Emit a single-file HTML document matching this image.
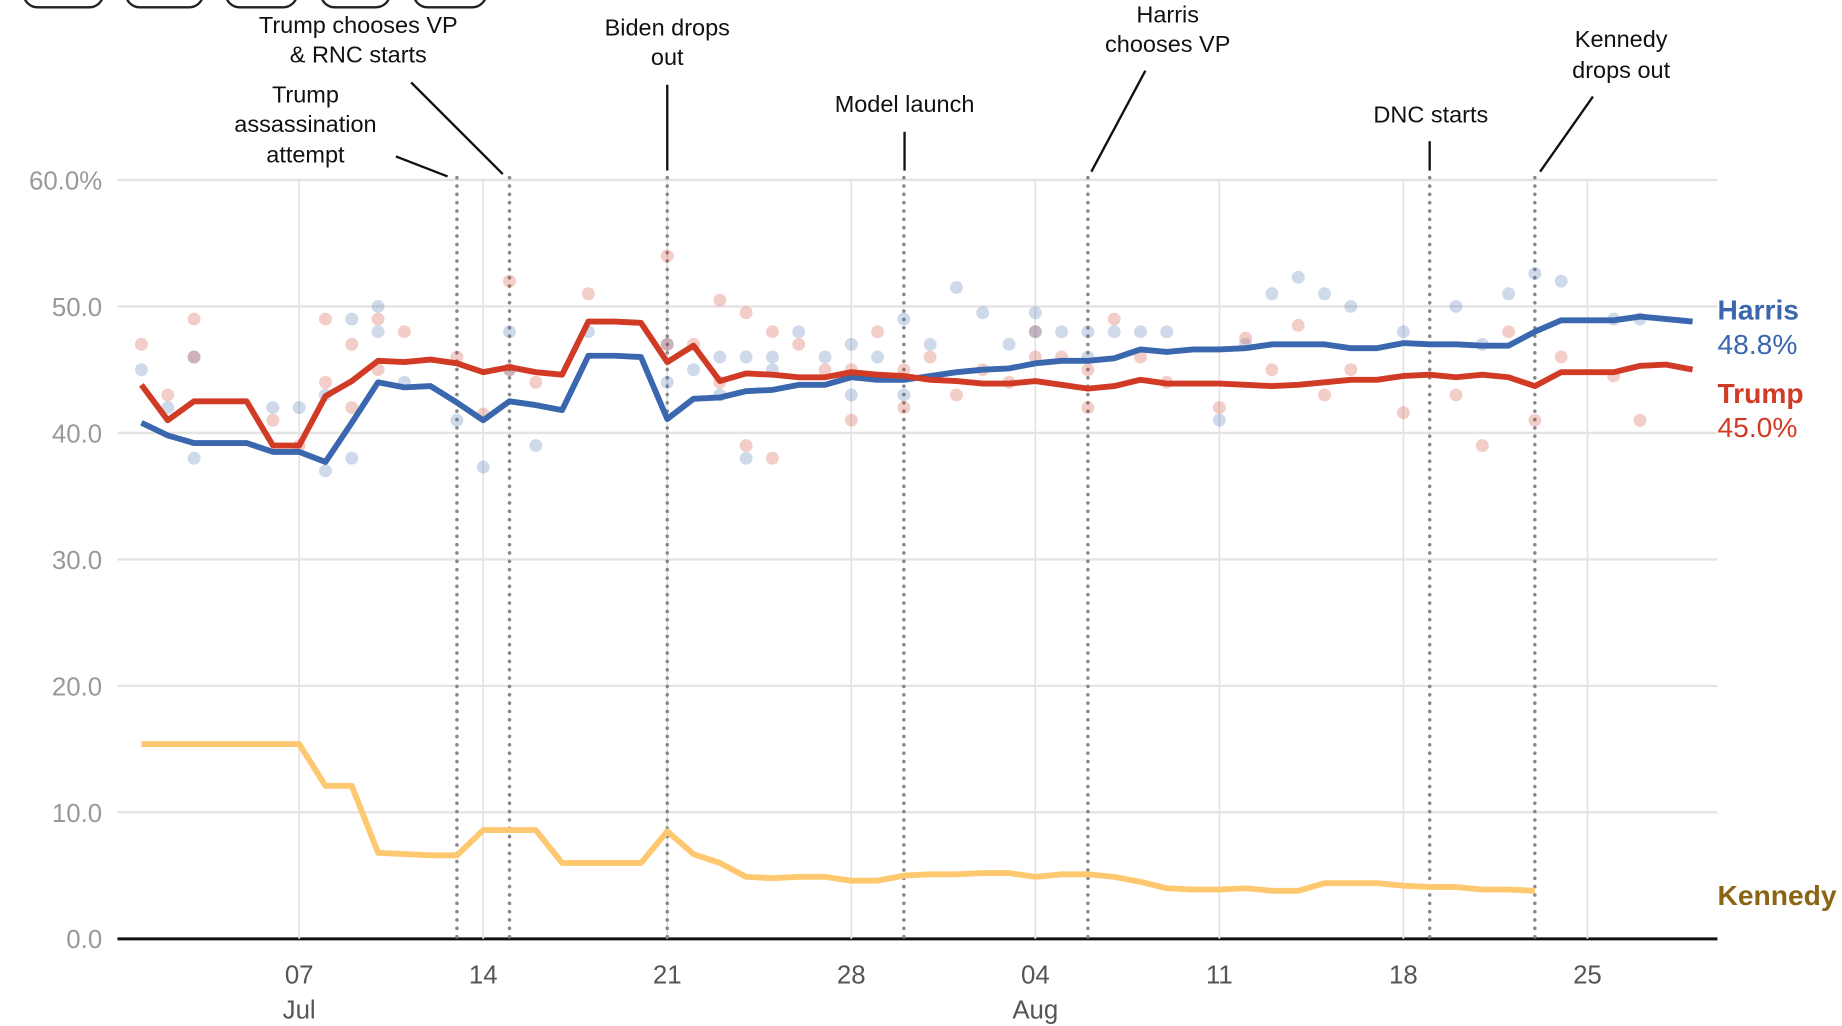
<!DOCTYPE html>
<html><head><meta charset="utf-8"><style>
html,body{margin:0;padding:0;background:#fff;width:1842px;height:1026px;overflow:hidden}
svg{display:block}
text{font-family:"Liberation Sans",sans-serif}
</style></head><body>
<svg id="chart" width="1842" height="1026" viewBox="0 0 1568 873" xmlns="http://www.w3.org/2000/svg">
<g>
<rect x="20" y="-25" width="68" height="31" rx="12" fill="#fff" stroke="#222" stroke-width="2"/>
<rect x="107" y="-25" width="66" height="31" rx="12" fill="#fff" stroke="#222" stroke-width="2"/>
<rect x="192" y="-25" width="61" height="31" rx="12" fill="#fff" stroke="#222" stroke-width="2"/>
<rect x="273" y="-25" width="59" height="31" rx="12" fill="#fff" stroke="#222" stroke-width="2"/>
<rect x="352" y="-25" width="62" height="31" rx="12" fill="#fff" stroke="#222" stroke-width="2"/>
</g>
<g id="grid"></g><g id="events"></g><g id="dots"></g><g id="lines"></g><g id="axes"></g>
<g font-size="20" fill="#111" text-anchor="middle">
<text x="305" y="28">Trump chooses VP</text><text x="305" y="53">&amp; RNC starts</text>
<text x="260" y="87">Trump</text><text x="260" y="112">assassination</text><text x="260" y="138">attempt</text>
<text x="568" y="30">Biden drops</text><text x="568" y="55">out</text>
<text x="770" y="95">Model launch</text>
<text x="994" y="19">Harris</text><text x="994" y="44">chooses VP</text>
<text x="1218" y="104">DNC starts</text>
<text x="1380" y="40">Kennedy</text><text x="1380" y="66">drops out</text>
<g stroke="#111" stroke-width="2">
<line x1="350" y1="70" x2="428" y2="148"/><line x1="337" y1="133" x2="381" y2="150"/>
<line x1="568" y1="72" x2="568" y2="145"/><line x1="770" y1="112" x2="770" y2="145"/>
<line x1="975" y1="60" x2="929" y2="146"/><line x1="1217" y1="120" x2="1217" y2="145"/>
<line x1="1356" y1="82" x2="1311" y2="146"/>
</g></g>
<g font-size="24">
<text x="1462" y="272" fill="#3a67ad" font-weight="bold">Harris</text>
<text x="1462" y="301" fill="#3a67ad">48.8%</text>
<text x="1462" y="343" fill="#d13b26" font-weight="bold">Trump</text>
<text x="1462" y="372" fill="#d13b26">45.0%</text>
<text x="1462" y="770" fill="#8b6414" font-weight="bold">Kennedy</text>
</g>
</svg>
<script>
const harris=[40.8,39.8,39.2,39.2,39.2,38.5,38.5,37.7,40.8,44.0,43.6,43.7,42.4,41.0,42.5,42.2,41.8,46.1,46.1,46.0,41.1,42.7,42.8,43.3,43.4,43.8,43.8,44.4,44.2,44.2,44.5,44.8,45.0,45.1,45.5,45.7,45.7,45.9,46.6,46.4,46.6,46.6,46.7,47.0,47.0,47.0,46.7,46.7,47.1,47.0,47.0,46.9,46.9,48.0,48.9,48.9,48.9,49.2,49.0,48.8];
const trump=[43.8,41.0,42.5,42.5,42.5,39.0,39.0,42.9,44.1,45.7,45.6,45.8,45.5,44.8,45.2,44.8,44.6,48.8,48.8,48.7,45.6,46.9,44.1,44.7,44.6,44.4,44.4,44.8,44.6,44.5,44.2,44.1,43.9,43.9,44.1,43.8,43.5,43.7,44.2,43.9,43.9,43.9,43.8,43.7,43.8,44.0,44.2,44.2,44.5,44.6,44.4,44.6,44.4,43.7,44.8,44.8,44.8,45.3,45.4,45.0];
const kennedy=[15.4,15.4,15.4,15.4,15.4,15.4,15.4,12.1,12.1,6.8,6.7,6.6,6.6,8.6,8.6,8.6,6.0,6.0,6.0,6.0,8.5,6.7,6.0,4.9,4.8,4.9,4.9,4.6,4.6,5.0,5.1,5.1,5.2,5.2,4.9,5.1,5.1,4.9,4.5,4.0,3.9,3.9,4.0,3.8,3.8,4.4,4.4,4.4,4.2,4.1,4.1,3.9,3.9,3.8];
const pollDays=[0,1,2,2,5,6,7,7,8,8,9,9,10,12,13,14,14,15,17,20,20,21,22,22,23,23,24,24,25,26,27,27,28,29,29,30,31,32,33,34,34,35,36,36,37,38,39,41,42,43,44,45,46,48,50,51,52,53,54,56,57];
const pollHarris=[45,42,38,46,42,42,37,43,49,38,50,48,44,41,37.3,48,45,39,48,44,47,45,43,46,46,38,45,46,48,46,47,43,46,49,43,47,51.5,49.5,47,49.5,48,48,48,46,48,48,48,41,47,51,52.3,51,50,48,50,47,51,52.6,52,49,49];
const pollTrump=[47,43,49,46,41,39,44,49,47,42,49,45,48,46,41.5,52,45,44,51,54,47,47,50.5,44,49.5,39,48,38,47,45,45,41,48,45,42,46,43,45,44,48,46,46,45,42,49,46,44,42,47.5,45,48.5,43,45,41.6,43,39,48,41,46,44.5,41];
const days=["07","14","21","28","04","11","18","25"];
const dayIdx=[6,13,20,27,34,41,48,55];
const months=["Jul","Aug"];const monthIdx=[6,34];
const yTicks=[0,10,20,30,40,50,60];
const eventIdx=[12,14,20,29,36,49,53];
const NS='http://www.w3.org/2000/svg';
const X=i=>120.4+i*22.38, Y=v=>799-v*10.767;
function mk(p,t,a){const e=document.createElementNS(NS,t);for(const k in a)e.setAttribute(k,a[k]);p.appendChild(e);return e;}
const G=id=>document.getElementById(id);
yTicks.forEach(v=>{
 const l=mk(G('grid'),'line',{x1:100,x2:1462,y1:Y(v),y2:Y(v),stroke:v===0?'#111':'#e4e4e4','stroke-width':v===0?2.5:2});
 
 
 const t=mk(G('axes'),'text',{x:87,y:Y(v)+8,'text-anchor':'end','font-size':22,fill:'#999'});
 t.textContent=v===60?'60.0%':v.toFixed(1);
 
 
});
dayIdx.forEach((d,k)=>{
 const l=mk(G('grid'),'line',{x1:X(d),x2:X(d),y1:153,y2:799,stroke:'#e4e4e4','stroke-width':1.5});
 
 
 const t=mk(G('axes'),'text',{x:X(d),y:837,'text-anchor':'middle','font-size':22,fill:'#555'});
 t.textContent=days[k];
 
 
});
monthIdx.forEach((d,k)=>{
 const t=mk(G('axes'),'text',{x:X(d),y:867,'text-anchor':'middle','font-size':22,fill:'#555'});
 t.textContent=months[k];
 
 
});
eventIdx.forEach(d=>{
 const l=mk(G('events'),'line',{x1:X(d),x2:X(d),y1:151,y2:799,stroke:'#888','stroke-width':3,'stroke-dasharray':'0.1 7','stroke-linecap':'round'});
 
 
});
pollDays.forEach((d,i)=>{
 const a=mk(G('dots'),'circle',{cx:X(d),cy:Y(pollHarris[i]),r:5.5,fill:'#3a67ad','fill-opacity':0.25});
 
 
 const b=mk(G('dots'),'circle',{cx:X(d),cy:Y(pollTrump[i]),r:5.5,fill:'#d13b26','fill-opacity':0.25});
 
 
});
function line(arr,c,name){
 const p=mk(G('lines'),'path',{d:arr.map((v,i)=>(i?'L':'M')+X(i)+','+Y(v)).join(''),fill:'none',stroke:c,'stroke-width':5,'stroke-linejoin':'round'});
 
 
}
line(kennedy,'#fdc86f','kennedy-line');
line(harris,'#3a67ad','harris-line');
line(trump,'#d13b26','trump-line');
</script>
</body></html>
